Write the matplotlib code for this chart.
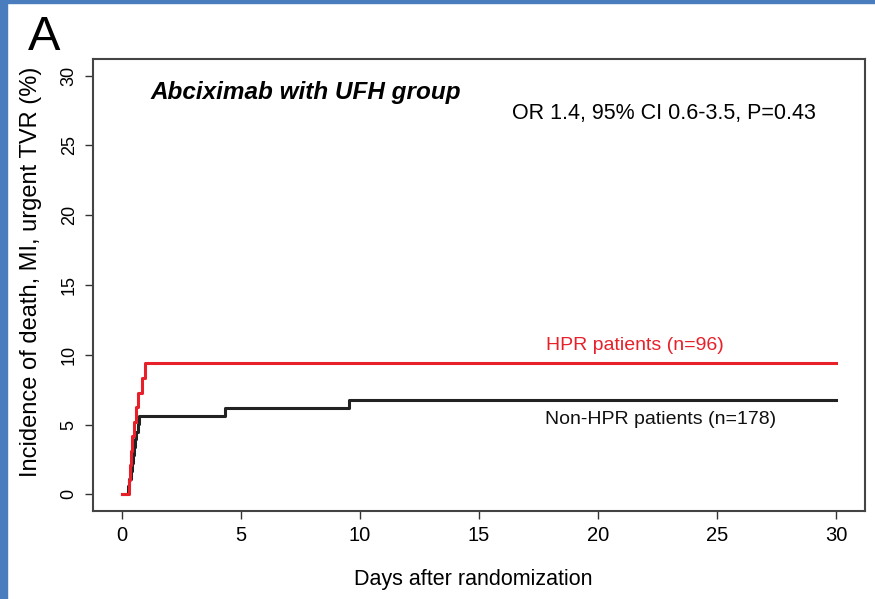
import matplotlib
matplotlib.use("Agg")
import matplotlib.pyplot as plt
from matplotlib.patches import Rectangle

plt.rcParams["font.family"] = ["Liberation Sans", "DejaVu Sans"]

# event times (days) and cumulative incidence (%)
non_hpr_days = [0, 0.28, 0.33, 0.38, 0.42, 0.47, 0.52, 0.57, 0.62, 0.68, 0.75, 4.35, 9.55, 30]
non_hpr_inc = [0, 0.56, 1.12, 1.69, 2.25, 2.81, 3.37, 3.93, 4.49, 5.06, 5.62, 6.18, 6.74, 6.74]

hpr_days = [0, 0.3, 0.35, 0.4, 0.45, 0.5, 0.6, 0.7, 0.85, 0.97, 30]
hpr_inc = [0, 1.04, 2.08, 3.13, 4.17, 5.21, 6.25, 7.29, 8.33, 9.38, 9.38]

x_ticks = [0, 5, 10, 15, 20, 25, 30]
y_ticks = [0, 5, 10, 15, 20, 25, 30]

W, H = 875, 599


def px(x, y):
    # pixel position (from top-left) -> figure fraction
    return x / W, 1 - y / H


fig = plt.figure(figsize=(W / 100, H / 100), dpi=100)

# blue frame of the original slide
fig.patches.append(Rectangle((0, 0), 7 / W, 1, transform=fig.transFigure,
                             color="#4a7dbd", zorder=0))
fig.patches.append(Rectangle((0, 1 - 3 / H), 1, 3 / H, transform=fig.transFigure,
                             color="#4a7dbd", zorder=0))

ax = fig.add_axes([93 / W, (H - 511) / H, (865 - 93) / W, (511 - 59) / H])

ax.step(non_hpr_days, non_hpr_inc, where="post", color="#222222", lw=2.2)
ax.step(hpr_days, hpr_inc, where="post", color="#e8202a", lw=2.2)

ax.set_xlim(-1.2, 31.2)
ax.set_ylim(-1.2, 31.2)
ax.set_xticks(x_ticks)
ax.set_yticks(y_ticks)
ax.tick_params(length=6, width=1, color="#333333", pad=5)
ax.tick_params(axis="x", labelsize=14.5)
ax.tick_params(axis="y", labelsize=13)
for lab in ax.get_yticklabels():
    lab.set_rotation(90)
    lab.set_va("center")
for s in ax.spines.values():
    s.set_color("#444444")
    s.set_linewidth(1.5)

fig.text(*px(473, 580), "Days after randomization", ha="center", va="center",
         fontsize=15.5)
fig.text(*px(31, 272), "Incidence of death, MI, urgent TVR (%)",
         rotation=90, ha="center", va="center", fontsize=17)

fig.text(*px(150, 93), "Abciximab with UFH group", ha="left", va="center",
         fontsize=17.5, fontweight="bold", fontstyle="italic")
fig.text(*px(664, 114), "OR 1.4, 95% CI 0.6-3.5, P=0.43", ha="center",
         va="center", fontsize=15.5)
fig.text(*px(635, 345), "HPR patients (n=96)", color="#e8202a", fontsize=14,
         ha="center", va="center")
fig.text(*px(661, 420), "Non-HPR patients (n=178)", color="#111111", fontsize=14,
         ha="center", va="center")

fig.text(*px(44, 50), "A", fontsize=35, ha="center", va="baseline")

fig.savefig("out.png", dpi=100)
